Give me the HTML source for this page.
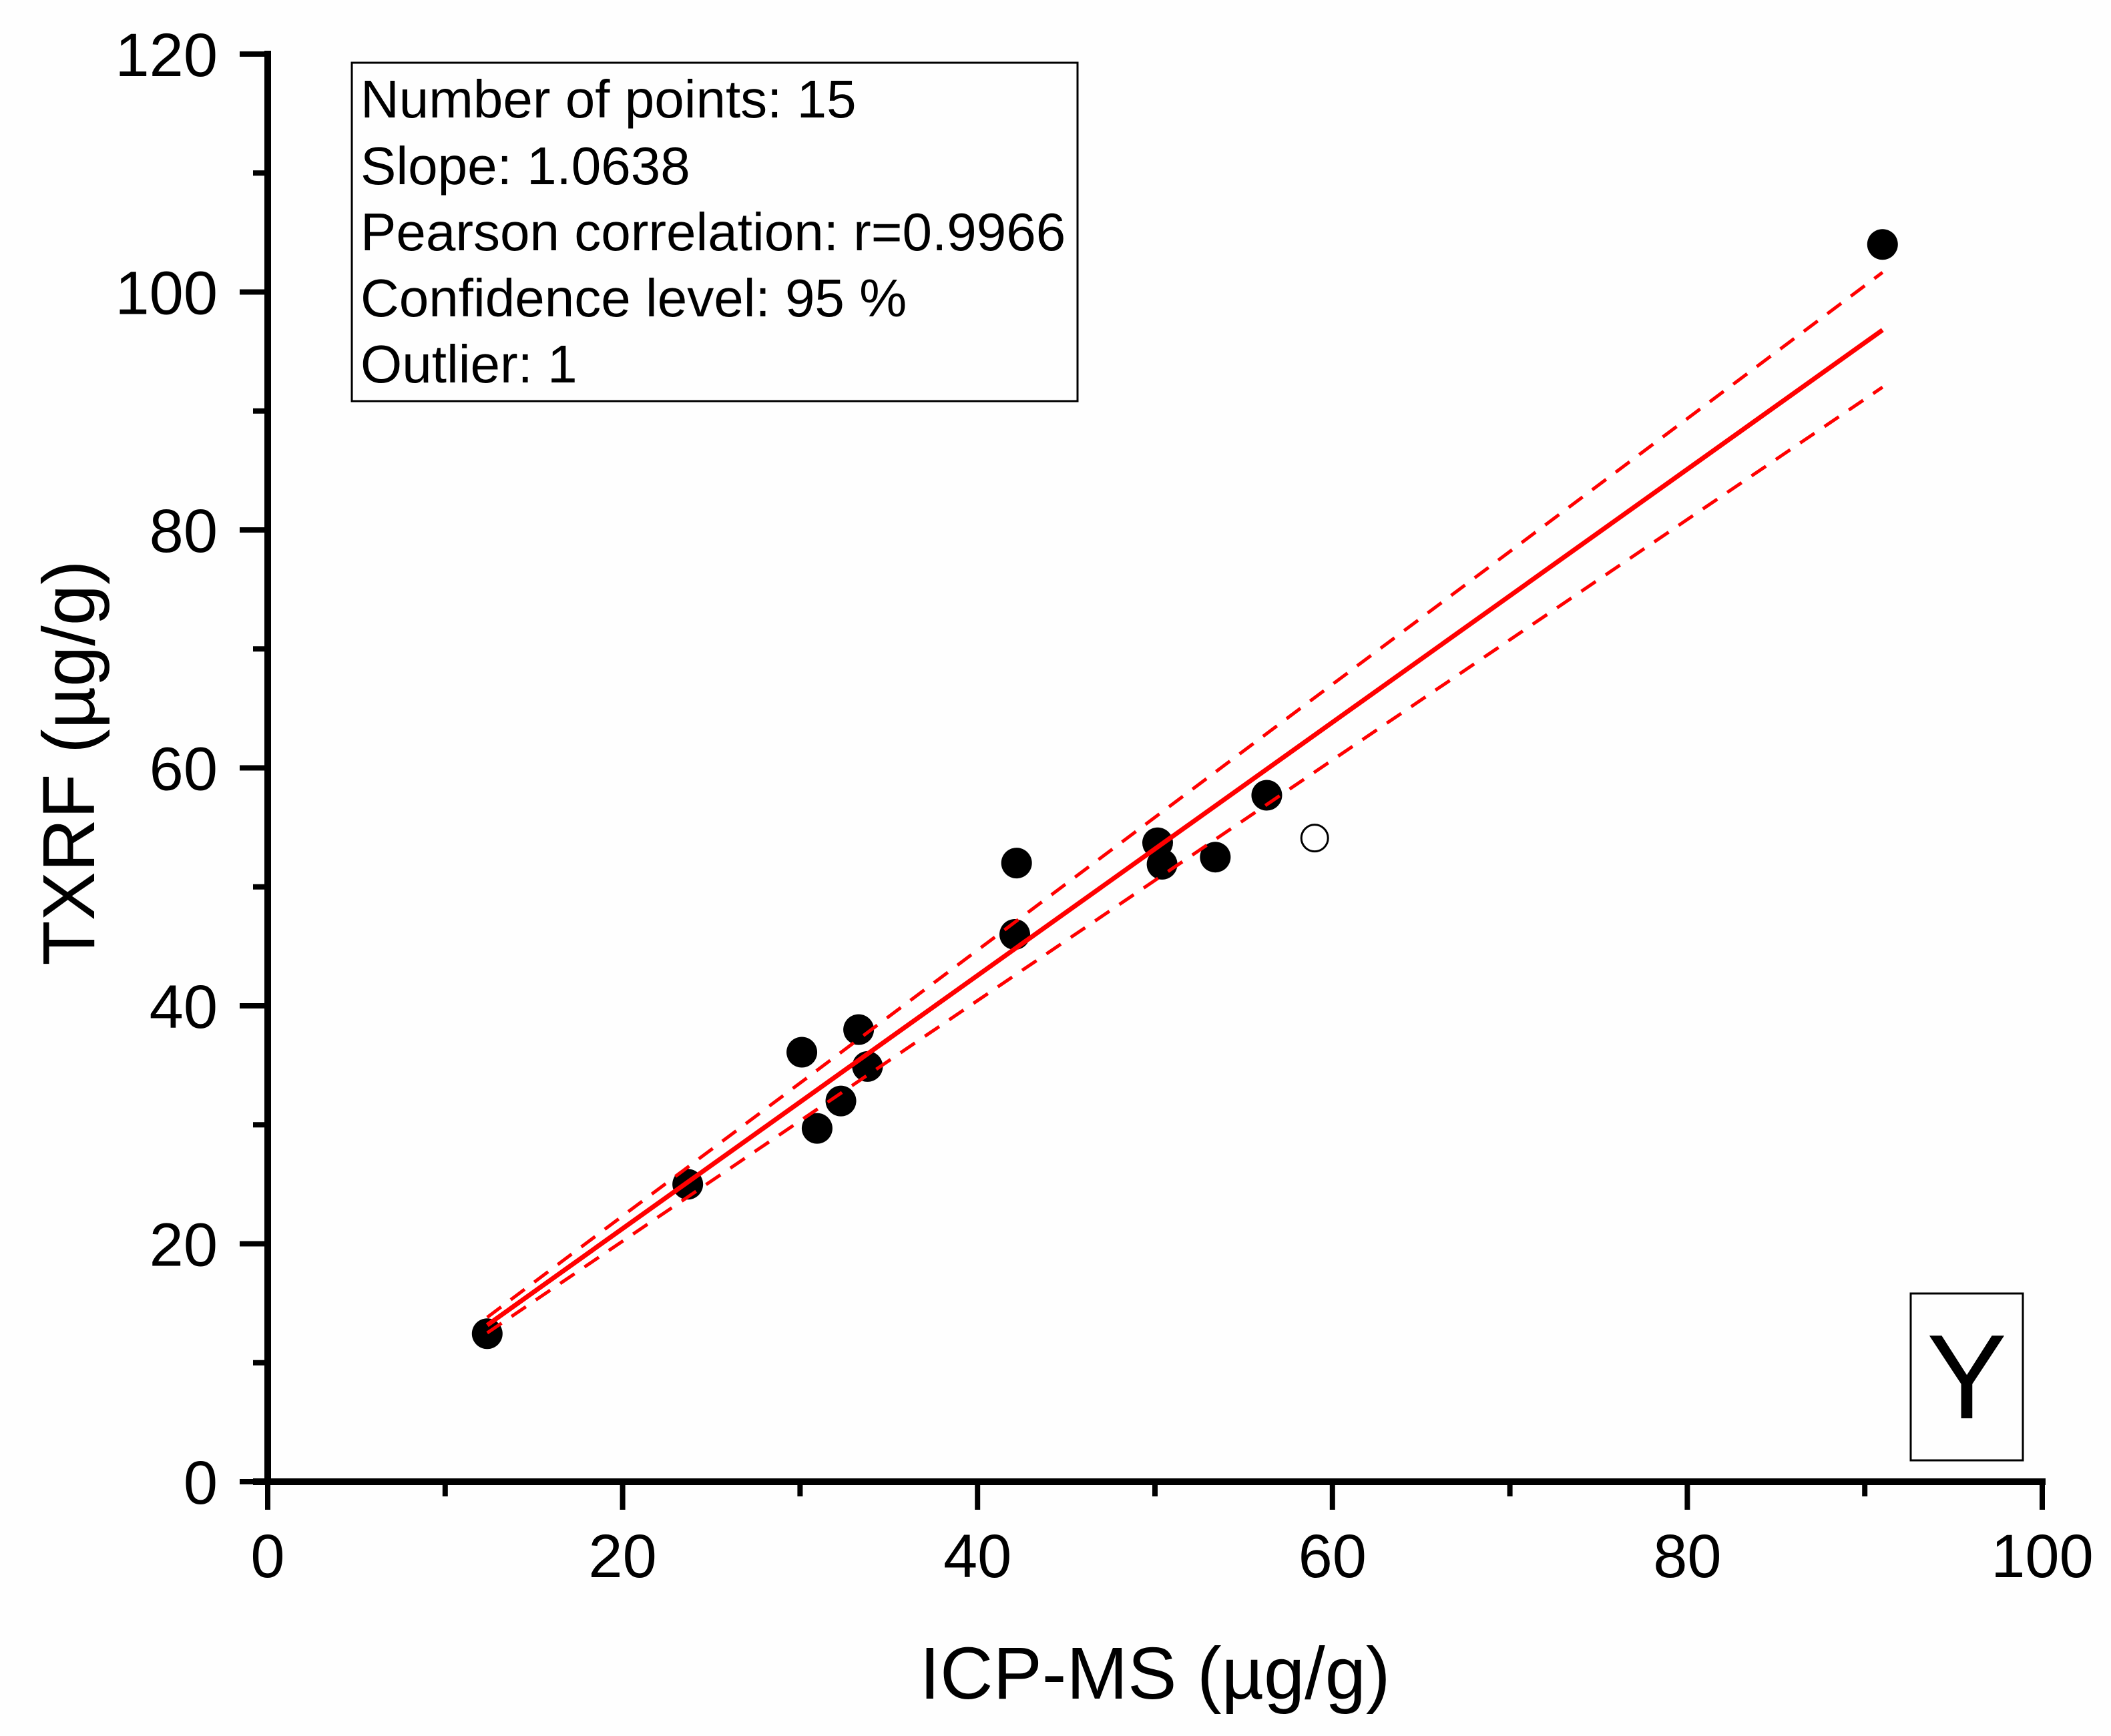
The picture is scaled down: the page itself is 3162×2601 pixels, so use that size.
<!DOCTYPE html>
<html><head><meta charset="utf-8"><style>
html,body{margin:0;padding:0;background:#fefefe;}
svg{display:block;font-family:"Liberation Sans",Arial,sans-serif;}
</style></head><body>
<svg id="chart" width="3162" height="2601" viewBox="0 0 3162 2601" xmlns="http://www.w3.org/2000/svg">
<rect x="0" y="0" width="3162" height="2601" fill="#fefefe"/>
<g id="marks"></g>
<g id="axes"></g>
<g>
<rect x="527" y="94" width="1087" height="507" fill="none" stroke="#000" stroke-width="3"/>
<text x="540" y="176" font-size="80">Number of points: 15</text>
<text x="540" y="276" font-size="80">Slope: 1.0638</text>
<text x="540" y="375" font-size="80">Pearson correlation: r=0.9966</text>
<text x="540" y="474" font-size="80">Confidence level: 95 %</text>
<text x="540" y="573" font-size="80">Outlier: 1</text>
</g>
<g>
<rect x="2862" y="1938" width="168" height="250" fill="none" stroke="#000" stroke-width="3"/>
<text x="2946" y="2125" font-size="180" text-anchor="middle">Y</text>
</g>
<text x="1730" y="2545" font-size="110" text-anchor="middle">ICP-MS (µg/g)</text>
<text x="0" y="0" font-size="110" text-anchor="middle" transform="translate(141,1143) rotate(-90)">TXRF (µg/g)</text>
</svg>
<script>
const xValues = [12.37, 23.67, 30.1, 30.96, 32.3, 33.3, 33.8, 42.1, 42.2, 50.15, 50.4, 53.4, 56.3, 91.0];
const yValues = [12.44, 25.0, 36.1, 29.7, 32.0, 38.0, 34.9, 46.0, 52.0, 53.7, 51.9, 52.5, 57.7, 104.0];
const outlierX = [59.0];
const outlierY = [54.1];
const fitSlope = 1.0638;
const bandUpperSlope = 1.117;
const bandLowerSlope = 1.011;
const fitRange = [12.37, 91.0];
const xTicks = [0, 20, 40, 60, 80, 100];
const yTicks = [0, 20, 40, 60, 80, 100, 120];

const NS = "http://www.w3.org/2000/svg";
const X0 = 401, X1 = 3059, Y0 = 2220, Y1 = 81;
function sx(v){ return X0 + (v - 0) / 100 * (X1 - X0); }
function sy(v){ return Y0 - (v - 0) / 120 * (Y0 - Y1); }
function mk(tag, attrs, parent){
  const e = document.createElementNS(NS, tag);
  for (const k in attrs) e.setAttribute(k, attrs[k]);
  parent.appendChild(e);
  return e;
}
const marks = document.getElementById('marks');
const axes = document.getElementById('axes');

xValues.forEach((x, i) => {
  const c = mk('circle', {cx: sx(x), cy: sy(yValues[i]), r: 23, fill: '#000'}, marks);
  
  
});
outlierX.forEach((x, i) => {
  const c = mk('circle', {cx: sx(x), cy: sy(outlierY[i]), r: 20, fill: '#fff', stroke: '#000', 'stroke-width': 3}, marks);
  
  
});
function lineFor(slope, dashed, name){
  const l = mk('line', {x1: sx(fitRange[0]), y1: sy(slope * fitRange[0]), x2: sx(fitRange[1]), y2: sy(slope * fitRange[1]), stroke: '#ff0000', 'stroke-width': dashed ? 5 : 7}, marks);
  if (dashed) l.setAttribute('stroke-dasharray', '26 18');
  
  
}
lineFor(bandUpperSlope, true, 'confidence-band-upper');
lineFor(bandLowerSlope, true, 'confidence-band-lower');
lineFor(fitSlope, false, 'fit-line');

const ya = mk('line', {x1: X0, y1: Y1 - 5, x2: X0, y2: Y0 + 5, stroke: '#000', 'stroke-width': 10}, axes);


const xa = mk('line', {x1: X0 - 22, y1: Y0, x2: X1 + 5, y2: Y0, stroke: '#000', 'stroke-width': 10}, axes);



xTicks.forEach((t, i) => {
  const tk = mk('line', {x1: sx(t), y1: Y0, x2: sx(t), y2: Y0 + 42, stroke: '#000', 'stroke-width': 8}, axes);
  
  
  const lb = mk('text', {x: sx(t), y: 2363, 'font-size': 92, 'text-anchor': 'middle'}, axes);
  lb.textContent = t;
  
  
  if (i < xTicks.length - 1) {
    const m = mk('line', {x1: sx(t + 10), y1: Y0, x2: sx(t + 10), y2: Y0 + 22, stroke: '#000', 'stroke-width': 8}, axes);
    
    
  }
});
yTicks.forEach((t, i) => {
  const tk = mk('line', {x1: X0 - 42, y1: sy(t), x2: X0, y2: sy(t), stroke: '#000', 'stroke-width': 8}, axes);
  
  
  const lb = mk('text', {x: 326, y: sy(t) + 33, 'font-size': 92, 'text-anchor': 'end'}, axes);
  lb.textContent = t;
  
  
  if (i < yTicks.length - 1) {
    const m = mk('line', {x1: X0 - 22, y1: sy(t + 10), x2: X0, y2: sy(t + 10), stroke: '#000', 'stroke-width': 8}, axes);
    
    
  }
});
</script>
</body></html>
